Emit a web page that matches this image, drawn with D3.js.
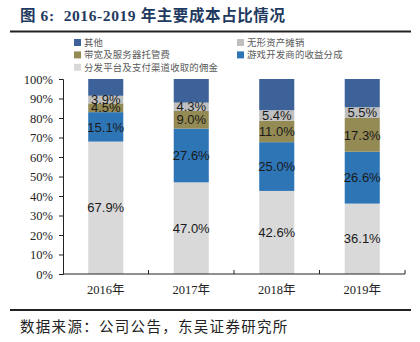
<!DOCTYPE html>
<html>
<head>
<meta charset="utf-8">
<script src="https://cdn.jsdelivr.net/npm/d3@7.9.0/dist/d3.min.js"></script>
<style>
  html, body { margin: 0; padding: 0; background: #fff; }
  svg { display: block; }
</style>
</head>
<body>
<svg id="chart" width="420" height="342"></svg>
<script>
// data
const years = ["2016年", "2017年", "2018年", "2019年"];
const series = [
  "分发平台及支付渠道收取的佣金",
  "游戏开发商的收益分成",
  "带宽及服务器托管费",
  "无形资产摊销",
  "其他"
];
const commission = [67.9, 47.0, 42.6, 36.1];
const devShare = [15.1, 27.6, 25.0, 26.6];
const bandwidth = [4.5, 9.0, 11.0, 17.3];
const amortization = [3.9, 4.3, 5.4, 5.5];
const other = [8.6, 12.1, 16.0, 14.5];
const yTicks = [0, 10, 20, 30, 40, 50, 60, 70, 80, 90, 100];
const legendOrder = ["其他", "无形资产摊销", "带宽及服务器托管费", "游戏开发商的收益分成", "分发平台及支付渠道收取的佣金"];

const colors = {
  "分发平台及支付渠道收取的佣金": "#d9d9d9",
  "游戏开发商的收益分成": "#2e75b6",
  "带宽及服务器托管费": "#948a54",
  "无形资产摊销": "#bfbfbf",
  "其他": "#3c6299"
};
const labelled = new Set(["分发平台及支付渠道收取的佣金", "游戏开发商的收益分成", "带宽及服务器托管费", "无形资产摊销"]);

const rows = years.map((y, i) => ({
  year: y,
  "分发平台及支付渠道收取的佣金": commission[i],
  "游戏开发商的收益分成": devShare[i],
  "带宽及服务器托管费": bandwidth[i],
  "无形资产摊销": amortization[i],
  "其他": other[i]
}));

const svg = d3.select("#chart");
const serif = "'Liberation Serif', 'Times New Roman', 'Noto Sans CJK SC', serif";

// title + rules
svg.append("text")
  .attr("x", 20).attr("y", 21)
  .attr("font-family", serif)
  .attr("font-weight", "bold")
  .attr("font-size", 15.5)
  .attr("letter-spacing", 0.6)
  .attr("fill", "#1f3a60")
  .style("white-space", "pre")
  .text("图 6:  2016-2019 年主要成本占比情况");

svg.append("line").attr("x1", 10).attr("x2", 411).attr("y1", 31.5).attr("y2", 31.5)
  .attr("stroke", "#222").attr("stroke-width", 2);
svg.append("line").attr("x1", 10).attr("x2", 411).attr("y1", 310).attr("y2", 310)
  .attr("stroke", "#222").attr("stroke-width", 2);

svg.append("text")
  .attr("x", 20).attr("y", 332)
  .attr("font-family", "'Noto Sans CJK SC', sans-serif")
  .attr("font-size", 14.5)
  .attr("letter-spacing", 1.3)
  .attr("fill", "#222")
  .text("数据来源：公司公告，东吴证券研究所");

// legend
const legend = svg.append("g").attr("font-family", "'Noto Sans CJK SC', sans-serif")
  .attr("font-size", 9.4).attr("fill", "#595959");
legendOrder.forEach((name, i) => {
  const col = i % 2, row = Math.floor(i / 2);
  const gx = col === 0 ? 74 : 237;
  const gy = 42.5 + row * 12.4;
  legend.append("rect").attr("x", gx).attr("y", gy - 3.5).attr("width", 7).attr("height", 7)
    .attr("fill", colors[name]);
  legend.append("text").attr("x", gx + 10).attr("y", gy + 3.3)
    .attr("letter-spacing", 0.2)
    .text(name);
});

// scales
const x = d3.scaleBand().domain(years).range([63, 405]).paddingInner(0.59).paddingOuter(0.295);
const y = d3.scaleLinear().domain([0, 100]).range([274, 79]);

const stack = d3.stack().keys(series)(rows);

const layers = svg.append("g").selectAll("g")
  .data(stack)
  .join("g")
  .attr("fill", d => colors[d.key]);

layers.selectAll("rect")
  .data(d => d)
  .join("rect")
  .attr("x", d => x(d.data.year))
  .attr("width", x.bandwidth())
  .attr("y", d => y(d[1]))
  .attr("height", d => y(d[0]) - y(d[1]));

// value labels
const labels = svg.append("g")
  .attr("font-family", "'Liberation Sans', Arial, sans-serif")
  .attr("font-size", 13)
  .attr("fill", "#1a1a1a")
  .attr("text-anchor", "middle");
stack.filter(s => labelled.has(s.key)).forEach(s => {
  s.forEach(d => {
    labels.append("text")
      .attr("x", x(d.data.year) + x.bandwidth() / 2)
      .attr("y", y((d[0] + d[1]) / 2))
      .attr("dy", "0.36em")
      .text(d3.format(".1f")(d[1] - d[0]) + "%");
  });
});

// y axis
const yAxis = svg.append("g")
  .attr("transform", "translate(63,0)")
  .call(d3.axisLeft(y).tickValues(yTicks).tickSize(4).tickFormat(d => d + "%"));
yAxis.select(".domain").attr("stroke", "#222");
yAxis.selectAll(".tick line").attr("stroke", "#222");
yAxis.selectAll("text")
  .attr("font-family", serif)
  .attr("font-size", 12.5)
  .attr("fill", "#222")
  .attr("x", -10);

// x axis
const step = x.step();
svg.append("line")
  .attr("x1", 63).attr("x2", 405).attr("y1", y(0)).attr("y2", y(0))
  .attr("stroke", "#222");
svg.append("g").selectAll("line")
  .data(years)
  .join("line")
  .attr("x1", d => x(d) + x.bandwidth() / 2 + step / 2)
  .attr("x2", d => x(d) + x.bandwidth() / 2 + step / 2)
  .attr("y1", y(0)).attr("y2", y(0) - 4)
  .attr("stroke", "#222");
svg.append("g").selectAll("text")
  .data(years)
  .join("text")
  .attr("x", d => x(d) + x.bandwidth() / 2)
  .attr("y", 294)
  .attr("text-anchor", "middle")
  .attr("font-family", serif)
  .attr("font-size", 12.5)
  .attr("fill", "#222")
  .text(d => d);
</script>
</body>
</html>
